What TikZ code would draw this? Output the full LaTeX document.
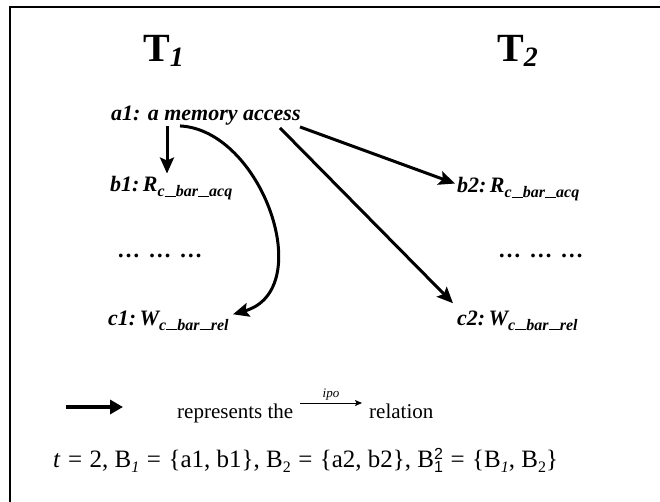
\documentclass[tikz,border=0pt]{standalone}
\usepackage{fontspec}
\setmainfont{Liberation Serif}
\newfontfamily\sansf{Liberation Sans}
\usetikzlibrary{arrows.meta,calc}
\newcommand{\lowsub}[3]{\raisebox{-#2}{\fontsize{#1}{#1}\selectfont #3}}
\newcommand{\usc}{\rule[0.4pt]{0.7em}{1pt}}
\newcommand{\subacq}{\lowsub{16pt}{5pt}{c\usc bar\usc acq}}
\newcommand{\subrel}{\lowsub{16pt}{5pt}{c\usc bar\usc rel}}
\newcommand{\eqs}{\hspace{0.3em}=\hspace{0.3em}}
\begin{document}
\begin{tikzpicture}[x=1pt,y=-1pt,
  lbl/.style={font=\fontsize{22}{26}\selectfont\bfseries\itshape, anchor=base west, inner sep=0pt},
  dots/.style={font=\fontsize{23}{26}\selectfont\bfseries, anchor=base west, inner sep=0pt},
  thr/.style={font=\fontsize{40}{44}\selectfont\bfseries, anchor=base west, inner sep=0pt},
  txt/.style={font=\fontsize{21}{24}\selectfont, anchor=base west, inner sep=0pt},
  edge/.style={line width=3pt, -{Stealth[length=16pt,width=14pt,inset=3pt]}},
  legedge/.style={line width=4pt, -{Triangle[length=13pt,width=14pt]}},
  ipoedge/.style={line width=1pt, -{Stealth[length=7pt,width=6pt,inset=1.5pt]}}]
\useasboundingbox (0,0) rectangle (660,502);
\draw[line width=2pt] (10,510) -- (10,7) -- (670,7);

\node[thr] (t1) at (143,62) {T\lowsub{28pt}{5pt}{\itshape 1}};
\node[thr] (t2) at (497,62) {T\lowsub{28pt}{5pt}{\itshape 2}};

\node[lbl] (a1) at (111,121) {a1: a memory access};
\node[lbl] (b1) at (110,192) {b1:\hspace{0.15em}R\subacq};
\node[dots] (dl) at (117,258) {…\hspace{0.1em} …\hspace{0.1em} …};
\node[lbl] (c1) at (108,325) {c1:\hspace{0.15em}W\subrel};
\node[lbl] (b2) at (457,193) {b2:\hspace{0.15em}R\subacq};
\node[dots] (dr) at (498,258) {…\hspace{0.1em} …\hspace{0.1em} …};
\node[lbl] (c2) at (457,325) {c2:\hspace{0.15em}W\subrel};

\draw[edge] ($(a1.south west)+(56,0)$) -- ($(b1.north west)+(57,-3)$);
\draw[edge] ($(a1.south west)+(69,0)$) .. controls (262,130) and (318,290) .. ($(c1.north west)+(125,4)$);
\draw[edge] ($(a1.south west)+(189,1)$) -- ($(b2.north west)+(-2,6)$);
\draw[edge] ($(a1.south west)+(169,2)$) -- ($(c2.north west)+(-4,-7)$);

\coordinate (lg0) at (66,407);
\coordinate (lg1) at (123,407);
\draw[legedge] (lg0) -- (lg1);
\node[txt] (rep) at (177,418) {represents the};
\coordinate (ip0) at (300,403);
\coordinate (ip1) at (362,403);
\draw[ipoedge] (ip0) -- node[above, inner sep=2pt, font=\fontsize{13}{14}\selectfont\itshape] (ipo) {ipo} (ip1);
\node[txt] (rel) at (369,418) {relation};

\node[txt, font=\fontsize{25}{28}\selectfont] (form) at (53,467) {\textit{t}\eqs 2, B\lowsub{16pt}{5pt}{\itshape 1}\eqs\{a1, b1\}, B\lowsub{16pt}{5pt}{2}\eqs\{a2, b2\}, B\makebox[0pt][l]{\raisebox{8pt}{\fontsize{16}{16}\selectfont\sansf 2}}\lowsub{16pt}{5pt}{\sansf 1}\eqs\{B\lowsub{16pt}{5pt}{\itshape 1}, B\lowsub{16pt}{5pt}{2}\}};
\end{tikzpicture}
\end{document}
